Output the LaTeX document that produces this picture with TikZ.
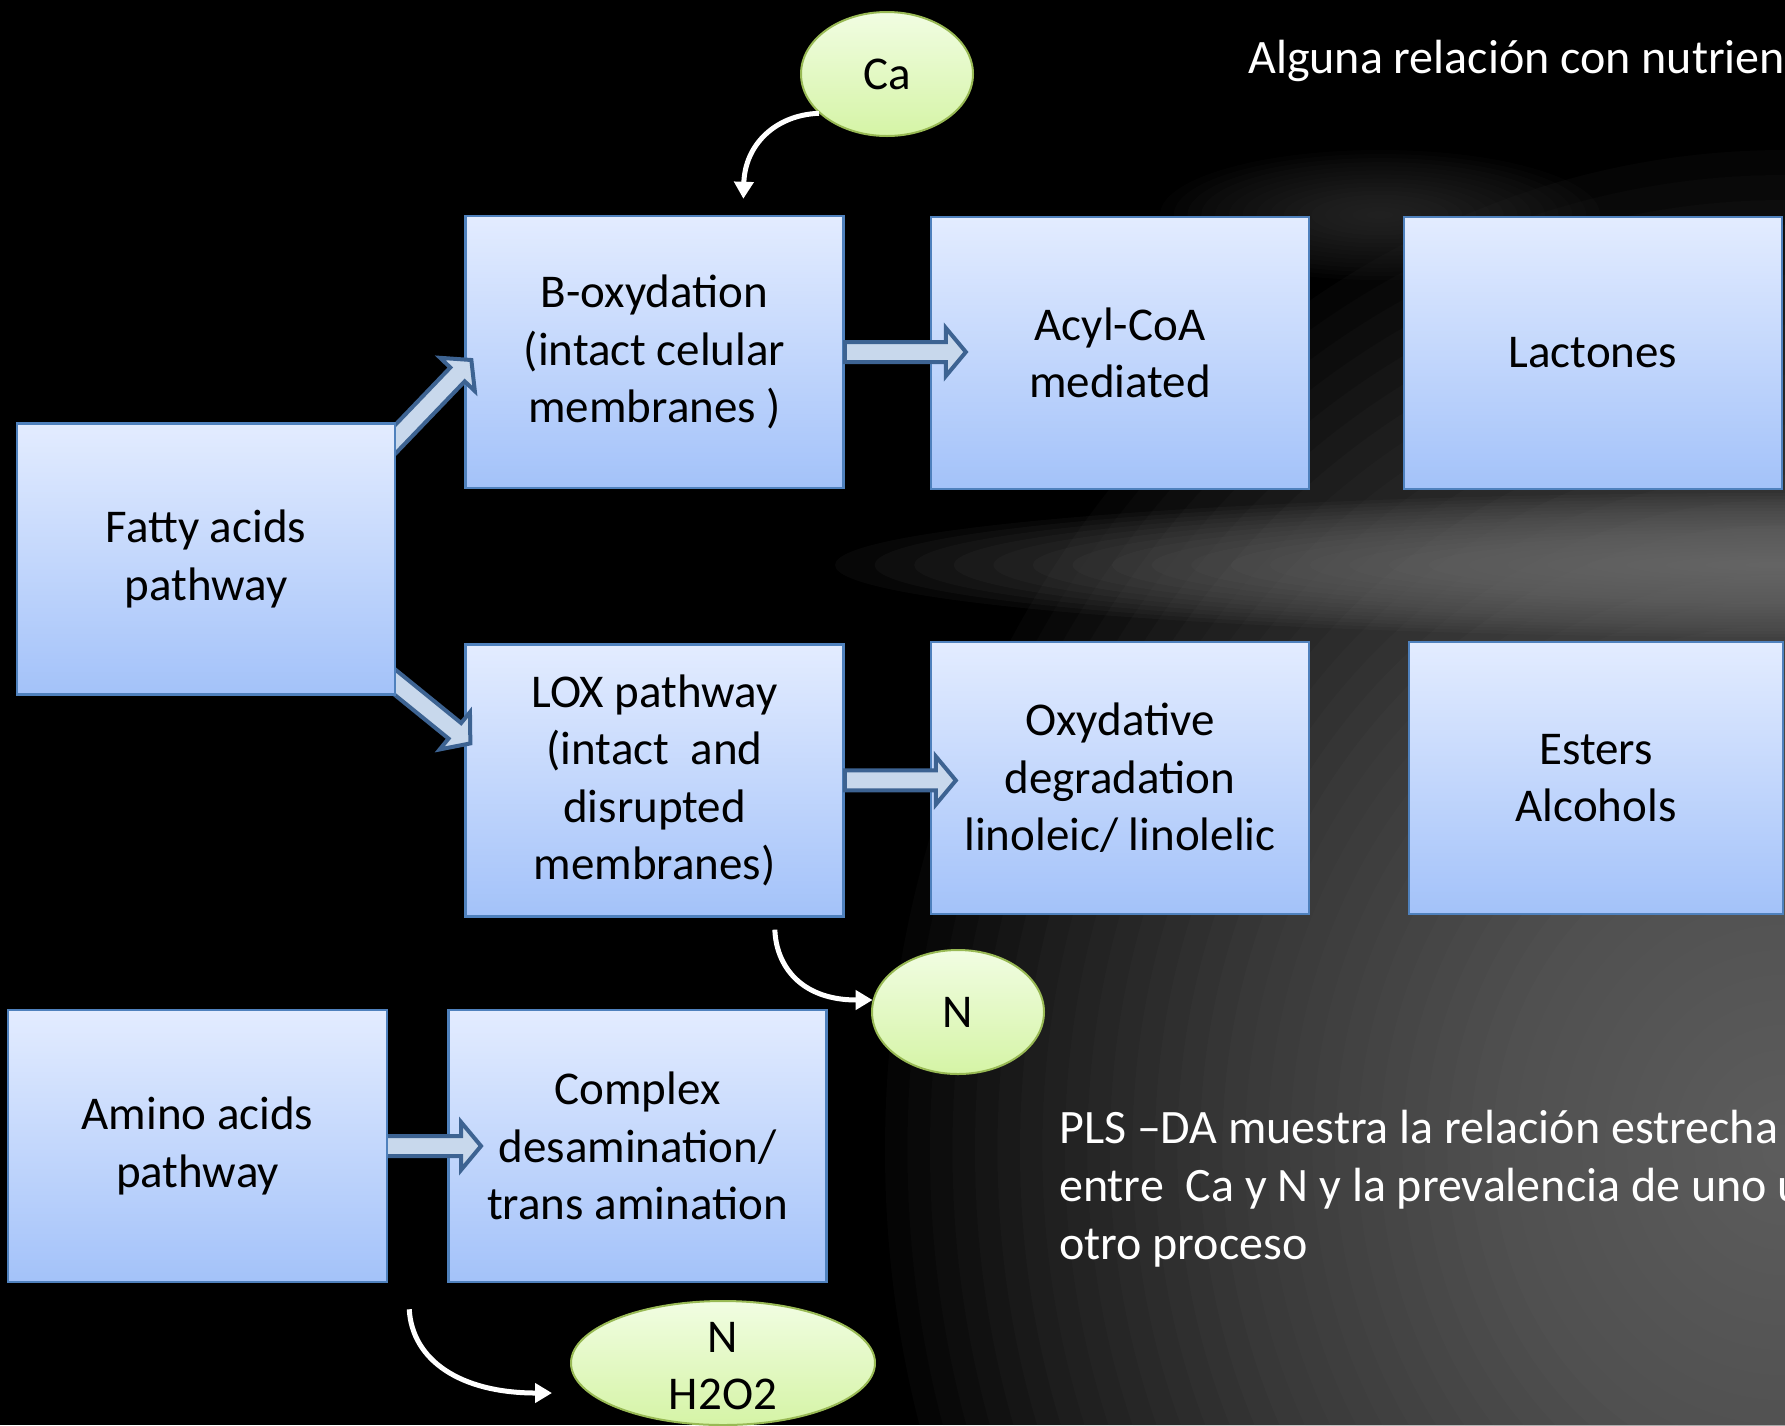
\documentclass[tikz,border=0pt]{standalone}
\usepackage{fontspec}
\setmainfont{Carlito}
\usetikzlibrary{calc,arrows.meta,shapes.geometric}
\definecolor{boxtop}{RGB}{227,236,255}
\definecolor{boxbot}{RGB}{163,194,249}
\definecolor{boxline}{RGB}{79,129,189}
\definecolor{elltop}{RGB}{241,253,226}
\definecolor{ellbot}{RGB}{213,244,166}
\definecolor{ellline}{RGB}{152,185,84}
\definecolor{bafill}{RGB}{200,216,236}
\definecolor{baline}{RGB}{61,99,146}
\definecolor{glowa}{RGB}{130,130,130}
\definecolor{glowb}{RGB}{120,120,120}
\definecolor{glowc}{RGB}{60,60,60}
\newcommand\blockarrow[5]{%
  \coordinate (ba-s) at (#1);
  \coordinate (ba-e) at (#2);
  \coordinate (ba-h) at ($(ba-e)!#5!(ba-s)$);
  \draw[blockar] ($(ba-s)!#3!90:(ba-e)$) -- ($(ba-h)!#3!-90:(ba-s)$) -- ($(ba-h)!#4!-90:(ba-s)$) -- (ba-e) -- ($(ba-h)!#4!90:(ba-s)$) -- ($(ba-h)!#3!90:(ba-s)$) -- ($(ba-s)!#3!-90:(ba-e)$) -- cycle;
}
% soft glow made of stacked translucent ellipses: centre x, centre y, x radius, y radius, colour, layers, opacity
\newcommand\softglow[7]{%
  \foreach \k in {1,...,#6} {%
    \fill[#5, fill opacity=#7] (#1,#2) ellipse [x radius={#3/#6*\k}, y radius={#4/#6*\k}];
  }%
}
\begin{document}
\begin{tikzpicture}[x=1pt,y=-1pt,
  pbox/.style={draw=boxline, line width=2.5pt, top color=boxtop, bottom color=boxbot,
    minimum width=378pt, minimum height=272pt, align=center, inner sep=0pt,
    font=\fontsize{47}{57.5}\selectfont, text=black},
  nut/.style={ellipse, draw=ellline, line width=2pt, top color=elltop, bottom color=ellbot,
    minimum width=172pt, minimum height=124pt, inner sep=0pt,
    font=\fontsize{47}{57.5}\selectfont, text=black},
  blockar/.style={draw=baline, fill=bafill, line width=4pt, line join=miter},
  curvar/.style={draw=white, line width=5pt, -{Triangle[width=19pt,length=17pt]}},
  note/.style={text=white, anchor=base west, inner sep=0pt, font=\fontsize{48}{58}\selectfont}
]
\useasboundingbox (0,0) rectangle (1785,1425);
\begin{scope}
\clip (0,0) rectangle (1785,1425);
\fill[black] (0,0) rectangle (1785,1425);
% background light
\softglow{1785}{1150}{900}{1000}{glowa}{40}{0.04}
\softglow{1785}{565}{950}{72}{glowb}{24}{0.062}
\softglow{1380}{215}{220}{65}{glowc}{16}{0.06}

% target boxes
\node[pbox] (bo) at (654.6,352) {B-oxydation\\(intact celular\\membranes )};
\node[pbox] (ac) at (1120,353) {Acyl-CoA\\mediated};
\node[pbox] (la) at (1593,353) {Lactones};
\node[pbox] (lox) at (654.6,780.4) {LOX pathway\\(intact~ and\\disrupted\\membranes)};
\node[pbox] (ox) at (1120,778) {Oxydative\\degradation\\linoleic/ linolelic};
\node[pbox, minimum width=374pt] (es) at (1596,778) {Esters\\Alcohols};
\node[pbox] (cx) at (637.5,1146) {Complex\\desamination/\\trans amination};

% ellipses
\node[nut] (ca) at (887,74) {Ca};
\node[nut] (n) at (958,1012) {N};
\node[nut, minimum width=304pt] (nh) at (723,1363) {};
\node[align=center, inner sep=0pt, font=\fontsize{47}{57.5}\selectfont, text=black] (nht) at ($(nh)+(0,3)$) {N\\H2O2};

% source boxes positions (nodes drawn after the block arrows)
\path (206,559) coordinate (fa-c) (197.5,1146) coordinate (am-c);
\coordinate (fa-ne) at (395,423.5);
\coordinate (fa-se) at (395,694.5);
\coordinate (am-e) at (387,1146);

% block arrows
\blockarrow{bo.east}{$(bo.east)+(121,0)$}{10pt}{24pt}{20pt}
\blockarrow{lox.east}{$(lox.east)+(111,0)$}{10pt}{24pt}{20pt}
\blockarrow{$(am-e)+(-12,0)$}{$(am-e)+(94,0)$}{10pt}{24pt}{20pt}
\blockarrow{$(fa-ne)+(-21,38)$}{$(bo.west)+(7,8)$}{10pt}{24pt}{20pt}
\blockarrow{$(fa-se)+(-23,-31)$}{$(lox.west)+(6,-37)$}{10pt}{24pt}{20pt}

% source boxes
\node[pbox, minimum height=271pt] (fa) at (fa-c) {Fatty acids\\pathway};
\node[pbox, minimum width=379pt] (am) at (am-c) {Amino acids\\pathway};

% curved arrows
\coordinate (caend) at ($(bo.north west)+(279,-16)$);
\draw[curvar] (ca.210) .. controls (775,115) and (745,145) .. (caend);
\coordinate (loxs) at ($(lox.south east)+(-70,12)$);
\draw[curvar] (loxs) .. controls (776,965) and (800,1000) .. (n.172);
\coordinate (ams) at ($(am.south east)+(21,26)$);
\coordinate (nhend) at ($(nh.west)+(-18,30)$);
\draw[curvar] (ams) .. controls (412,1360) and (460,1393) .. (nhend);

% texts
\node[note] (t1) at (1248,73) {Alguna relación con nutrien};
\node[note] (p1) at (1059,1143) {PLS –DA muestra la relación estrecha};
\node[note] (p2) at (1059,1201) {entre~ Ca y N y la prevalencia de uno u};
\node[note] (p3) at (1059,1259) {otro proceso};
\end{scope}
\end{tikzpicture}
\end{document}
